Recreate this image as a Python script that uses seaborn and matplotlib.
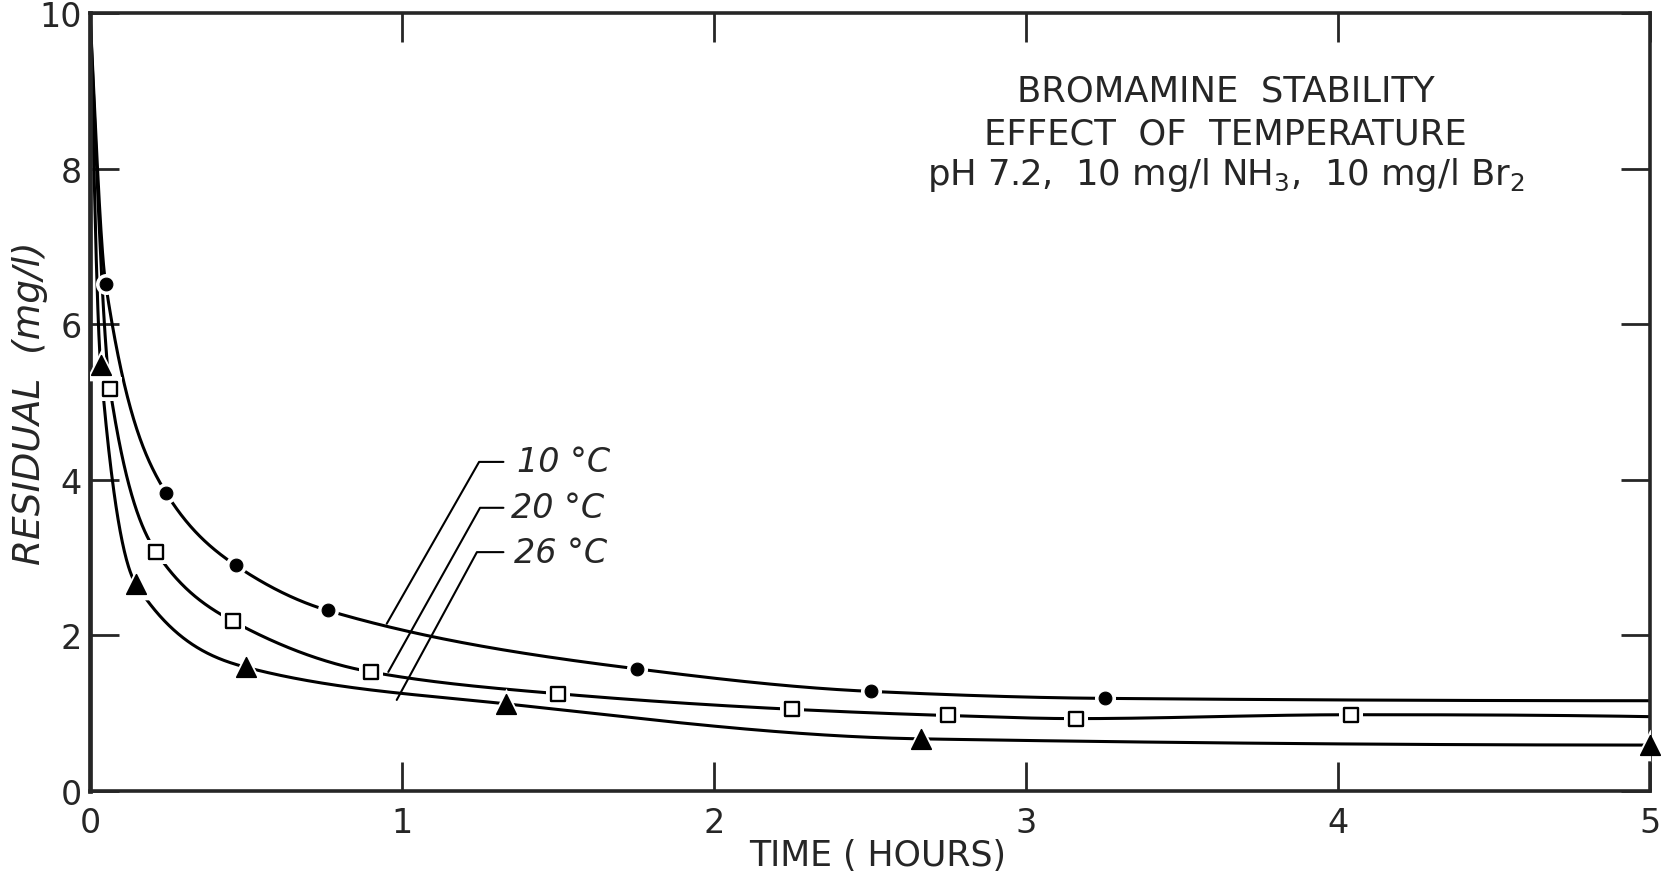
import numpy as np
import matplotlib
matplotlib.use('Agg')
import matplotlib.pyplot as plt
import seaborn as sns

# readings: time in hours, residual in mg/l
time_10 = [0.050, 0.244, 0.467, 0.762, 1.752, 2.502, 3.253]
res_10 = [6.52, 3.83, 2.90, 2.32, 1.57, 1.28, 1.19]

time_20 = [0.064, 0.212, 0.459, 0.900, 1.500, 2.249, 2.749, 3.160, 4.042]
res_20 = [5.17, 3.07, 2.18, 1.53, 1.25, 1.05, 0.97, 0.93, 0.98]

time_26 = [0.034, 0.147, 0.500, 1.333, 2.662, 5.000]
res_26 = [5.47, 2.66, 1.59, 1.12, 0.67, 0.59]

# where the drawn curves start and end
curve_start = [10.0, 10.0, 10.0]
curve_end = [1.16, 0.955, 0.59]

series_labels = ['10 °C', '20 °C', '26 °C']
# label leader: text y, elbow x, end point on curve
label_y = [4.23, 3.64, 3.07]
label_x = [1.37, 1.35, 1.36]
elbow_x = [1.247, 1.25, 1.24]
leader_end_x = [0.951, 0.956, 0.983]
leader_end_y = [2.15, 1.53, 1.17]

x_ticks = [0, 1, 2, 3, 4, 5]
y_ticks = [0, 2, 4, 6, 8, 10]

title_lines = ['BROMAMINE  STABILITY',
               'EFFECT  OF  TEMPERATURE',
               'pH 7.2,  10 mg/l NH$_3$,  10 mg/l Br$_2$']


def pchip(x, y, xn):
    # monotone cubic through the points, used only to draw the smooth curve
    x = np.asarray(x, float)
    y = np.asarray(y, float)
    h = np.diff(x)
    delta = np.diff(y) / h
    n = len(x)
    d = np.zeros(n)
    for k in range(1, n - 1):
        if delta[k - 1] * delta[k] > 0:
            w1 = 2 * h[k] + h[k - 1]
            w2 = h[k] + 2 * h[k - 1]
            d[k] = (w1 + w2) / (w1 / delta[k - 1] + w2 / delta[k])
    def end_slope(h0, h1, d0, d1):
        s = ((2 * h0 + h1) * d0 - h0 * d1) / (h0 + h1)
        if np.sign(s) != np.sign(d0):
            return 0.0
        if np.sign(d0) != np.sign(d1) and abs(s) > abs(3 * d0):
            return 3 * d0
        return s
    d[0] = end_slope(h[0], h[1], delta[0], delta[1])
    d[-1] = end_slope(h[-1], h[-2], delta[-1], delta[-2])
    idx = np.clip(np.searchsorted(x, xn) - 1, 0, n - 2)
    t = (xn - x[idx]) / h[idx]
    h00 = 2 * t**3 - 3 * t**2 + 1
    h10 = t**3 - 2 * t**2 + t
    h01 = -2 * t**3 + 3 * t**2
    h11 = t**3 - t**2
    return h00 * y[idx] + h10 * h[idx] * d[idx] + h01 * y[idx + 1] + h11 * h[idx] * d[idx + 1]


sns.set_style('ticks')
plt.rcParams['font.family'] = ['DejaVu Sans']
plt.rcParams['mathtext.fontset'] = 'dejavusans'

fig = plt.figure(figsize=(16.61, 8.78), dpi=100)
ax = fig.add_axes([0.0542, 0.098, 0.9392, 0.886])

series = [(time_10, res_10), (time_20, res_20), (time_26, res_26)]
for i, (t, r) in enumerate(series):
    xs = [0.0] + list(t)
    ys = [curve_start[i]] + list(r)
    if xs[-1] < 5.0:
        xs.append(5.0)
        ys.append(curve_end[i])
    xd = np.linspace(0, 5, 3000)
    yd = pchip(xs, ys, xd)
    sns.lineplot(x=xd, y=yd, sort=False, estimator=None, color='black',
                 linewidth=2.2, ax=ax, zorder=2)

# white halos give the little gaps in the line round each point
sns.scatterplot(x=time_10, y=res_10, marker='o', s=230, color='white',
                linewidth=0, ax=ax, zorder=3)
sns.scatterplot(x=time_20, y=res_20, marker='s', s=290, color='white',
                linewidth=0, ax=ax, zorder=3)
sns.scatterplot(x=time_26, y=res_26, marker='^', s=520, color='white',
                linewidth=0, ax=ax, zorder=3)

sns.scatterplot(x=time_10, y=res_10, marker='o', s=85, color='black',
                edgecolor='black', ax=ax, zorder=4)
sns.scatterplot(x=time_20, y=res_20, marker='s', s=100, color='white',
                edgecolor='black', linewidth=1.7, ax=ax, zorder=4)
sns.scatterplot(x=time_26, y=res_26, marker='^', s=200, color='black',
                edgecolor='black', ax=ax, zorder=4, clip_on=False)

# labels with leader lines
for i, lab in enumerate(series_labels):
    ax.plot([1.325, elbow_x[i], leader_end_x[i]],
            [label_y[i], label_y[i], leader_end_y[i]],
            color='black', linewidth=1.5, zorder=5)
    ax.text(label_x[i], label_y[i], lab, fontsize=24, style='italic',
            ha='left', va='center')

for yy, line in zip([9.0, 8.45, 7.93], title_lines):
    ax.text(3.64, yy, line, fontsize=25.5, ha='center', va='center')

ax.set_xlim(0, 5)
ax.set_ylim(0, 10)
ax.set_xticks(x_ticks)
ax.set_yticks(y_ticks)
ax.tick_params(direction='in', length=21, width=2, top=True, right=True,
               labeltop=False, labelright=False, labelsize=24)
ax.tick_params(axis='x', pad=11)
ax.tick_params(axis='y', pad=6)
for sp in ax.spines.values():
    sp.set_linewidth(2.6)
    sp.set_visible(True)
ax.spines['left'].set_linewidth(3.4)

ax.set_xlabel('TIME ( HOURS)', fontsize=25)
ax.xaxis.set_label_coords(0.505, -0.060)
ax.set_ylabel('RESIDUAL  (mg/l)', fontsize=27, style='italic')
ax.yaxis.set_label_coords(-0.027, 0.5)

fig.savefig('out.png', dpi=100, facecolor='white')
